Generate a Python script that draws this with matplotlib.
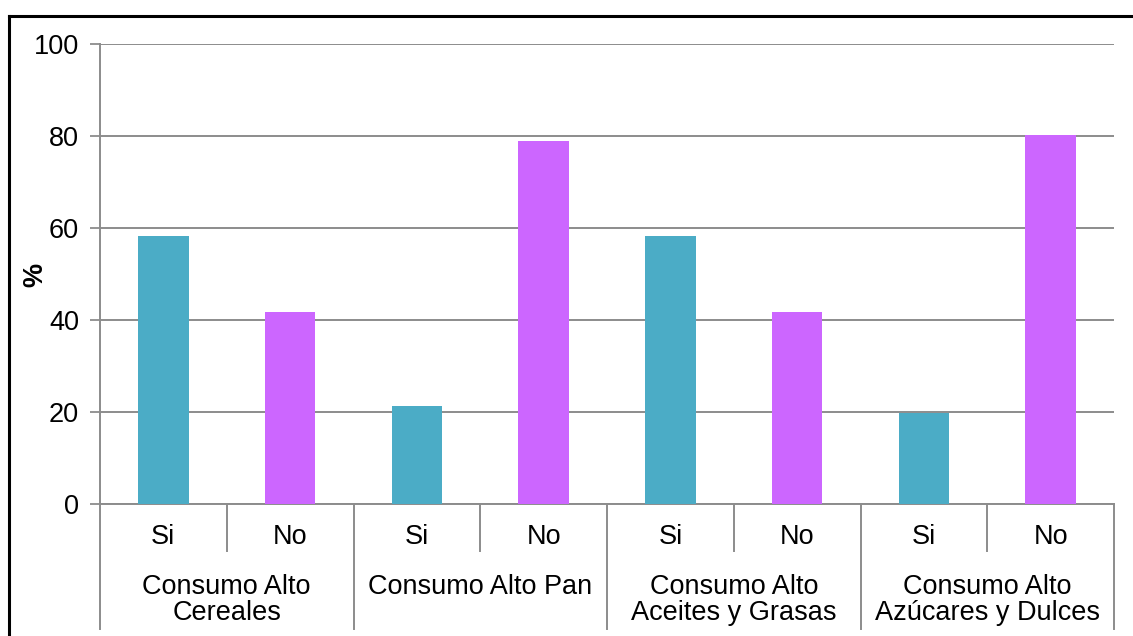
import matplotlib.pyplot as plt
from matplotlib.lines import Line2D

plt.rcParams["font.family"] = ["Liberation Sans", "DejaVu Sans"]

GROUPS = [
    "Consumo Alto\nCereales",
    "Consumo Alto Pan",
    "Consumo Alto\nAceites y Grasas",
    "Consumo Alto\nAzúcares y Dulces",
]
ANSWERS = ["Si", "No"]
SI_VALUES = [58.3, 21.2, 58.3, 19.7]
NO_VALUES = [41.7, 78.8, 41.7, 80.3]
Y_TICKS = [0, 20, 40, 60, 80, 100]

SI_COLOR = "#4BACC6"
NO_COLOR = "#CC66FF"
GRID_COLOR = "#8C8C8C"
FS = 19.5

fig = plt.figure(figsize=(11.33, 6.36), dpi=100)
W, H = 1133, 636
x0, x1, y_top, y_zero = 100, 1114, 44, 503.5
ax = fig.add_axes([x0 / W, 1 - y_zero / H, (x1 - x0) / W, (y_zero - y_top) / H])

# one slot per answer, two slots per group
values = []
colors = []
for si, no in zip(SI_VALUES, NO_VALUES):
    values += [si, no]
    colors += [SI_COLOR, NO_COLOR]
xs = list(range(len(values)))
ax.bar(xs, values, width=0.40, color=colors, zorder=3)

ax.set_xlim(-0.5, len(values) - 0.5)
ax.set_ylim(0, 100)
ax.set_yticks(Y_TICKS)
ax.set_yticklabels([str(t) for t in Y_TICKS], fontsize=FS)
ax.tick_params(axis="y", length=7, width=1.3, color=GRID_COLOR, pad=8)
ax.grid(axis="y", color=GRID_COLOR, linewidth=1.4, zorder=0)

for side in ["top", "right"]:
    ax.spines[side].set_visible(False)
ax.spines["left"].set_color(GRID_COLOR)
ax.spines["left"].set_linewidth(1.4)
ax.spines["bottom"].set_color(GRID_COLOR)
ax.spines["bottom"].set_linewidth(1.4)

# answer labels under each bar
ax.set_xticks(xs)
ax.set_xticklabels(ANSWERS * len(GROUPS), fontsize=FS)
ax.tick_params(axis="x", length=0, pad=15)

# hierarchical category separators
axis_h = y_zero - y_top
inner_drop = -47 / axis_h
outer_drop = -125 / axis_h
trans = ax.get_xaxis_transform()
for i in range(len(GROUPS)):
    ax.plot([2 * i + 0.5] * 2, [0, inner_drop], transform=trans, color=GRID_COLOR,
            linewidth=1.4, clip_on=False)
for i in range(len(GROUPS) + 1):
    ax.plot([2 * i - 0.5] * 2, [0, outer_drop], transform=trans, color=GRID_COLOR,
            linewidth=1.4, clip_on=False)
for i, name in enumerate(GROUPS):
    ax.text(2 * i + 0.5, -70 / axis_h, name, transform=trans, ha="center", va="top",
            fontsize=FS, linespacing=1.05)

# y axis title
fig.text(35 / W, 1 - 275 / H, "%", rotation=90, ha="center", va="center",
         fontsize=FS, fontweight="bold")

# chart border
fig.add_artist(Line2D([9 / W, 9 / W], [0, 1 - 16 / H], color="black", linewidth=2.2))
fig.add_artist(Line2D([9 / W, 1], [1 - 16 / H, 1 - 16 / H], color="black", linewidth=2.2))

fig.savefig("out.png", dpi=100)
